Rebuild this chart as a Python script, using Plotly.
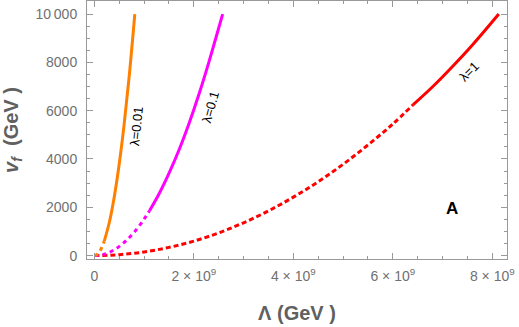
import plotly.graph_objects as go

# Lambda in units of 1e9 GeV, v_f in GeV
red_dot_x = [0, 0.5, 1.0, 1.5, 2.0, 2.5, 3.0, 3.5, 4.0, 4.5, 5.0, 5.5, 6.0, 6.41]
red_dot_y = [0, 40, 150, 340, 600, 940, 1360, 1850, 2420, 3060, 3780, 4580, 5450, 6250]
red_sol_x = [6.41, 6.8, 7.2, 7.6, 8.13]
red_sol_y = [6250, 6990, 7830, 8720, 10000]

mag_dot_x = [0, 0.2, 0.4, 0.6, 0.8, 1.0, 1.11]
mag_dot_y = [0, 60, 240, 545, 965, 1510, 1860]
mag_sol_x = [1.11, 1.3, 1.5, 1.7, 1.9, 2.1, 2.3, 2.45, 2.58]
mag_sol_y = [1860, 2550, 3400, 4360, 5450, 6660, 7990, 9060, 10000]

ora_dot_x = [0, 0.05, 0.1, 0.15, 0.2]
ora_dot_y = [0, 38, 151, 340, 600]
ora_sol_x = [0.2, 0.3, 0.4, 0.5, 0.6, 0.7, 0.814]
ora_sol_y = [600, 1360, 2420, 3780, 5440, 7400, 10000]

x_tickvals = [0, 2, 4, 6, 8]
x_ticktext = ["0", "2 × 10<sup>9</sup>", "4 × 10<sup>9</sup>", "6 × 10<sup>9</sup>", "8 × 10<sup>9</sup>"]
y_tickvals = [0, 2000, 4000, 6000, 8000, 10000]
y_ticktext = ["0", "2000", "4000", "6000", "8000", "10\u2009000"]

labels = ["λ=0.01", "λ=0.1", "λ=1"]
label_x = [0.858, 2.326, 7.53]
label_y = [5325, 6152, 7642]
label_angle = [-84, -74, -45]

RED, MAG, ORA = "#ff0000", "#ff00ff", "#ff8000"

fig = go.Figure()
def add(x, y, color, dash):
    fig.add_trace(go.Scatter(x=x, y=y, mode="lines",
                             line=dict(color=color, width=3, dash=dash, shape="spline"),
                             showlegend=False, hoverinfo="skip"))

add(red_dot_x, red_dot_y, RED, "5px,3px")
add(red_sol_x, red_sol_y, RED, "solid")
add(mag_dot_x, mag_dot_y, MAG, "4px,4px")
add(mag_sol_x, mag_sol_y, MAG, "solid")
add(ora_dot_x, ora_dot_y, ORA, "4px,4px")
add(ora_sol_x, ora_sol_y, ORA, "solid")

for t, x, y, a in zip(labels, label_x, label_y, label_angle):
    fig.add_annotation(x=x, y=y, text=t, textangle=a, showarrow=False,
                       font=dict(size=13, color="black", family="Liberation Sans"))
fig.add_annotation(x=7.19, y=1932, text="<b>A</b>", showarrow=False,
                   font=dict(size=17, color="black", family="Liberation Sans"))

axcol = "#999999"
fig.update_xaxes(range=[-0.147, 8.295], tickvals=x_tickvals, ticktext=x_ticktext,
                 ticks="inside", ticklen=6, tickcolor=axcol, showline=True, linecolor=axcol,
                 linewidth=1, mirror="allticks", showgrid=False, zeroline=False,
                 ticklabelstandoff=4, automargin=False,
                 minor=dict(ticks="inside", dtick=0.5, tick0=0, ticklen=3, tickcolor=axcol),
                 tickfont=dict(size=14, color="#707070", family="Liberation Sans"),
                 title=dict(text="<b>Λ (GeV )</b>", standoff=23,
                            font=dict(size=20, color="#606060", family="Liberation Sans")))
fig.update_yaxes(range=[-140, 10540], tickvals=y_tickvals, ticktext=y_ticktext,
                 ticks="inside", ticklen=6, tickcolor=axcol, showline=True, linecolor=axcol,
                 linewidth=1, mirror="allticks", showgrid=False, zeroline=False,
                 ticklabelstandoff=6, automargin=False,
                 minor=dict(ticks="inside", dtick=500, tick0=0, ticklen=3, tickcolor=axcol),
                 tickfont=dict(size=14, color="#707070", family="Liberation Sans"),
                 title=dict(text="<b><i>v</i><sub><i>f</i></sub>\u00a0 (GeV )</b>", standoff=11,
                            font=dict(size=20, color="#606060", family="Liberation Sans")))
fig.update_layout(width=519, height=327, margin=dict(l=87, r=12, t=1, b=68),
                  plot_bgcolor="white", paper_bgcolor="white")
fig.write_html("out.html", config={"displayModeBar": False},
               post_script="document.body.style.margin='0';document.body.style.overflow='hidden';")
